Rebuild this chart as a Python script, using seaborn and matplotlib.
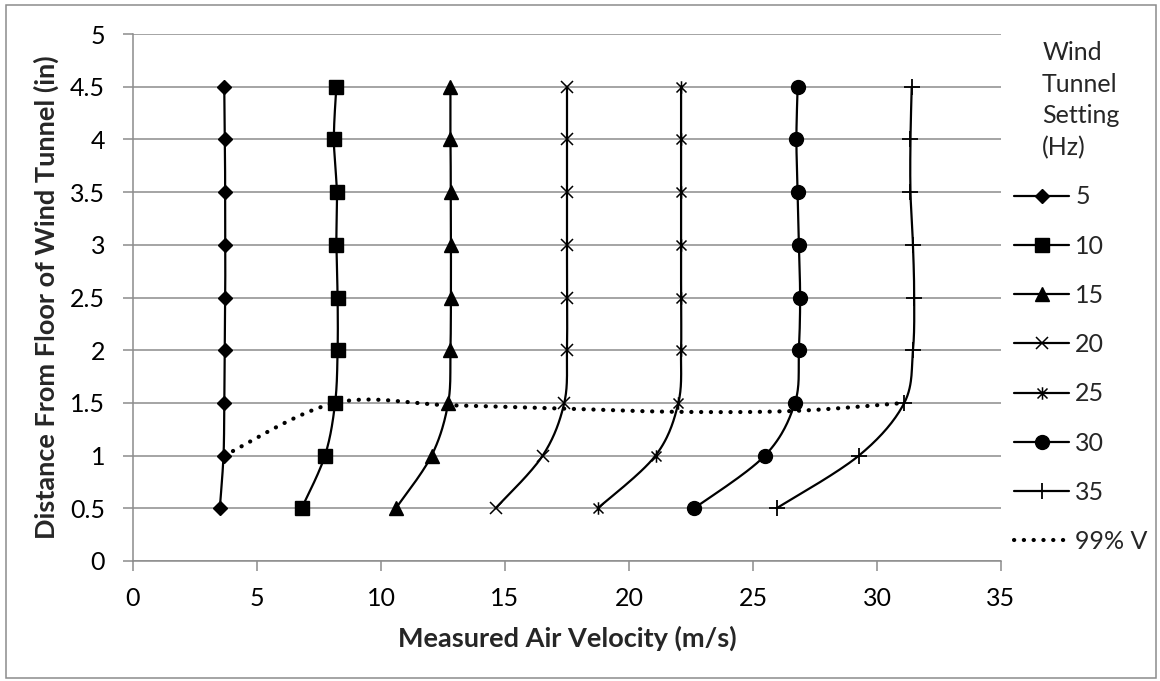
import numpy as np
import matplotlib
matplotlib.use("Agg")
import matplotlib.pyplot as plt
from matplotlib.lines import Line2D
from matplotlib.path import Path
from matplotlib.patches import Rectangle
import seaborn as sns

# data
heights = [0.5, 1.0, 1.5, 2.0, 2.5, 3.0, 3.5, 4.0, 4.5]
settings = ["5", "10", "15", "20", "25", "30", "35"]
v5 = [3.50, 3.65, 3.68, 3.70, 3.72, 3.72, 3.72, 3.70, 3.68]
v10 = [6.80, 7.74, 8.15, 8.25, 8.25, 8.20, 8.22, 8.10, 8.20]
v15 = [10.60, 12.04, 12.71, 12.80, 12.82, 12.82, 12.82, 12.80, 12.80]
v20 = [14.62, 16.52, 17.39, 17.50, 17.50, 17.50, 17.50, 17.50, 17.50]
v25 = [18.74, 21.07, 21.99, 22.10, 22.10, 22.10, 22.10, 22.10, 22.10]
v30 = [22.63, 25.48, 26.69, 26.85, 26.90, 26.85, 26.80, 26.75, 26.80]
v35 = [25.95, 29.27, 31.10, 31.45, 31.50, 31.45, 31.35, 31.35, 31.40]
v99_x = [3.68, 8.15, 12.71, 17.39, 21.99, 26.69, 31.10]
v99_y = [1.00, 1.50, 1.478, 1.446, 1.415, 1.424, 1.50]

series = [v5, v10, v15, v20, v25, v30, v35]

# excel-like star marker: an x with a vertical bar
star = Path([(-1, -1), (1, 1), (-1, 1), (1, -1), (0, -1.25), (0, 1.25)],
            [Path.MOVETO, Path.LINETO, Path.MOVETO, Path.LINETO, Path.MOVETO, Path.LINETO])
marker_style = [
    dict(marker="D", ms=7),
    dict(marker="s", ms=9.5),
    dict(marker="^", ms=10),
    dict(marker="x", ms=8, mew=1.1),
    dict(marker=star, ms=9, mew=1.1),
    dict(marker="o", ms=10),
    dict(marker="+", ms=11, mew=1.3),
]
DOTS = (0, (0.05, 2.3))


def smooth(xs, ys, n=30):
    # bezier smoothing like excel's "smoothed line"
    p = np.column_stack([xs, ys]).astype(float)
    pts = [p[0]]
    for i in range(len(p) - 1):
        p0 = p[i - 1] if i > 0 else p[i]
        p3 = p[i + 2] if i + 2 < len(p) else p[i + 1]
        c1 = p[i] + (p[i + 1] - p0) / 6
        c2 = p[i + 1] - (p3 - p[i]) / 6
        t = np.linspace(0, 1, n)[1:, None]
        seg = ((1 - t) ** 3) * p[i] + 3 * ((1 - t) ** 2) * t * c1 + 3 * (1 - t) * t ** 2 * c2 + t ** 3 * p[i + 1]
        pts.extend(seg)
    pts = np.array(pts)
    return pts[:, 0], pts[:, 1]


sns.set_theme(style="white")
plt.rcParams["font.family"] = ["Lato", "DejaVu Sans"]
FS = 18

fig = plt.figure(figsize=(11.6, 6.81), dpi=100)
ax = fig.add_axes([133 / 1160, 1 - 561 / 681, (1001 - 133) / 1160, (561 - 34) / 681])

for vals, st in zip(series, marker_style):
    sx, sy = smooth(vals, heights)
    sns.lineplot(x=sx, y=sy, sort=False, estimator=None, color="black", lw=1.6, ax=ax)
    ax.plot(vals, heights, ls="none", color="black", mfc="black", mec="black", zorder=4, **st)

sx, sy = smooth(v99_x, v99_y)
ax.plot(sx, sy, color="black", lw=3.0, ls=DOTS, dash_capstyle="round", zorder=3)

ax.set_xlim(0, 35)
ax.set_ylim(0, 5)
ax.set_xticks(np.arange(0, 36, 5))
ax.set_yticks(np.arange(0, 5.01, 0.5))
ax.set_yticklabels([f"{v:g}" for v in np.arange(0, 5.01, 0.5)])
ax.yaxis.grid(True, color="#8c8c8c", lw=1.1)
ax.set_axisbelow(True)
for s in ["top", "right"]:
    ax.spines[s].set_visible(False)
for s in ["left", "bottom"]:
    ax.spines[s].set_color("#8c8c8c")
    ax.spines[s].set_linewidth(1.1)
ax.tick_params(axis="both", which="major", direction="out", length=7, width=1.1,
               color="#8c8c8c", labelsize=FS, labelcolor="black")
ax.tick_params(axis="x", bottom=True, pad=12)
ax.tick_params(axis="y", left=True, pad=13)
ax.set_xlabel("Measured Air Velocity (m/s)", fontsize=19.5, fontweight="bold", labelpad=11)
ax.set_ylabel("Distance From Floor of Wind Tunnel (in)", fontsize=19.5, fontweight="bold", labelpad=8)

handles = [Line2D([], [], color="black", lw=1.6, mfc="black", mec="black", **st) for st in marker_style]
handles.append(Line2D([], [], color="black", lw=3.0, ls=DOTS, dash_capstyle="round"))
leg = fig.legend(handles, settings + ["99% V"], title="Wind\nTunnel\nSetting\n(Hz)",
                 loc="upper left", bbox_to_anchor=(1014 / 1160, 1 - 41 / 681), frameon=False,
                 fontsize=FS, title_fontsize=FS, handlelength=2.2, handletextpad=0.25,
                 labelspacing=1.05, borderaxespad=0, borderpad=0)
leg.get_title().set_linespacing(1.45)

fig.patches.append(Rectangle((6 / 1160, 3 / 681), 1150 / 1160, 673 / 681, transform=fig.transFigure,
                             fill=False, edgecolor="#8c8c8c", lw=1.1))

fig.savefig("out.png", dpi=100)
